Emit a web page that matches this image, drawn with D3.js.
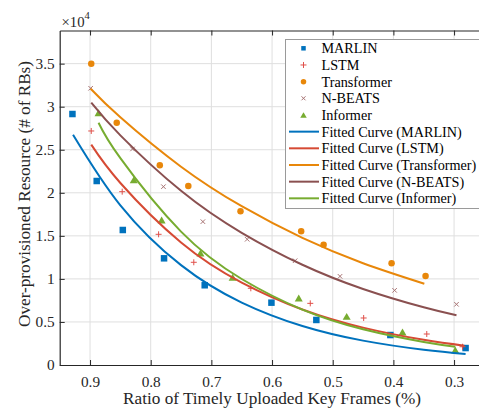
<!DOCTYPE html>
<html>
<head>
<meta charset="utf-8">
<script src="https://cdn.jsdelivr.net/npm/d3@7"></script>
<style>
  body { margin: 0; background: #fff; }
  svg { display: block; font-family: "Liberation Serif", "DejaVu Serif", serif; }
</style>
</head>
<body>
<div id="chart"></div>
<script>
const width = 479,
    height = 411;

// scatter points (x: ratio, y: RBs / 1e4)
const marlinX = [0.929, 0.889, 0.846, 0.778, 0.711, 0.601, 0.527, 0.405, 0.281];
const marlinY = [2.915, 2.137, 1.568, 1.239, 0.926, 0.724, 0.523, 0.348, 0.197];
const lstmX = [0.898, 0.847, 0.787, 0.729, 0.635, 0.537, 0.449, 0.345, 0.286];
const lstmY = [2.718, 2.013, 1.518, 1.193, 0.891, 0.716, 0.546, 0.360, 0.212];
const transformerX = [0.898, 0.856, 0.785, 0.738, 0.652, 0.552, 0.515, 0.403, 0.347];
const transformerY = [3.499, 2.814, 2.319, 2.079, 1.785, 1.553, 1.397, 1.181, 1.034];
const nbeatsX = [0.899, 0.830, 0.779, 0.714, 0.641, 0.562, 0.488, 0.398, 0.296];
const nbeatsY = [3.214, 2.509, 2.071, 1.665, 1.460, 1.211, 1.030, 0.867, 0.705];
const informerX = [0.886, 0.828, 0.782, 0.718, 0.665, 0.556, 0.477, 0.385, 0.298];
const informerY = [2.930, 2.149, 1.684, 1.301, 1.019, 0.778, 0.565, 0.383, 0.174];

// fitted curves
const fitMarlinX = [0.928, 0.85, 0.75, 0.65, 0.55, 0.45, 0.35, 0.281];
const fitMarlinY = [2.675, 1.855, 1.160, 0.725, 0.453, 0.283, 0.177, 0.128];
const fitLstmX = [0.898, 0.85, 0.75, 0.65, 0.55, 0.45, 0.35, 0.283];
const fitLstmY = [2.559, 2.114, 1.423, 0.958, 0.645, 0.434, 0.292, 0.224];
const fitTransformerX = [0.899, 0.85, 0.75, 0.65, 0.55, 0.45, 0.349];
const fitTransformerY = [3.209, 2.877, 2.303, 1.844, 1.476, 1.182, 0.944];
const fitNbeatsX = [0.898, 0.85, 0.75, 0.65, 0.55, 0.45, 0.35, 0.296];
const fitNbeatsY = [3.047, 2.667, 2.023, 1.535, 1.164, 0.883, 0.670, 0.577];
const fitInformerX = [0.886, 0.85, 0.75, 0.65, 0.55, 0.45, 0.35, 0.298];
const fitInformerY = [2.814, 2.402, 1.549, 0.999, 0.644, 0.415, 0.268, 0.213];

const xTicks = [0.9, 0.8, 0.7, 0.6, 0.5, 0.4, 0.3];
const yTicks = [0, 0.5, 1, 1.5, 2, 2.5, 3, 3.5];

const models = ["MARLIN", "LSTM", "Transformer", "N-BEATS", "Informer"];
const colors = ["#0072BD", "#D64A34", "#E8870A", "#8A5050", "#77AC30"];
const markerColors = ["#0072BD", "#E0504A", "#E8870A", "#A77373", "#77AC30"];
const markerTypes = ["square", "plus", "circle", "cross", "triangle"];

const points = [
    [marlinX, marlinY], [lstmX, lstmY], [transformerX, transformerY],
    [nbeatsX, nbeatsY], [informerX, informerY]
];
const fits = [
    [fitMarlinX, fitMarlinY], [fitLstmX, fitLstmY], [fitTransformerX, fitTransformerY],
    [fitNbeatsX, fitNbeatsY], [fitInformerX, fitInformerY]
];

const plotLeft = 59.7, plotRight = 484.4, plotTop = 30.5, plotBottom = 365;

const x = d3.scaleLinear().domain([0.95, 0.25]).range([plotLeft, plotRight]);
const y = d3.scaleLinear().domain([0, 3.885]).range([plotBottom, plotTop]);

const svg = d3.select("#chart").append("svg")
    .attr("width", width)
    .attr("height", height);

// grid
svg.append("g")
    .selectAll("line")
    .data(xTicks)
    .join("line")
    .attr("x1", d => x(d)).attr("x2", d => x(d))
    .attr("y1", plotTop).attr("y2", plotBottom)
    .attr("stroke", "#dfdfdf").attr("stroke-width", 1);
svg.append("g")
    .selectAll("line")
    .data(yTicks.filter(d => d > 0))
    .join("line")
    .attr("x1", plotLeft).attr("x2", plotRight)
    .attr("y1", d => y(d)).attr("y2", d => y(d))
    .attr("stroke", "#dfdfdf").attr("stroke-width", 1);

// axes (ticks inward)
const axisColor = "#262626";
const xAxis = svg.append("g")
    .attr("transform", `translate(0,${plotBottom})`)
    .call(d3.axisBottom(x).tickValues(xTicks).tickSizeInner(-5).tickSizeOuter(0).tickPadding(10).tickFormat(d3.format(".1f")));
const xAxisTop = svg.append("g")
    .attr("transform", `translate(0,${plotTop})`)
    .call(d3.axisTop(x).tickValues(xTicks).tickSizeInner(-5).tickSizeOuter(0).tickFormat(""));
xAxisTop.selectAll(".tick text").remove();
const yAxis = svg.append("g")
    .attr("transform", `translate(${plotLeft},0)`)
    .call(d3.axisLeft(y).tickValues(yTicks).tickSizeInner(-5).tickSizeOuter(0).tickPadding(5).tickFormat(d => d));

[xAxis, xAxisTop, yAxis].forEach(g => {
    g.select(".domain").attr("stroke", axisColor).attr("stroke-width", 1.2);
    g.selectAll(".tick line").attr("stroke", axisColor);
    g.selectAll(".tick text")
        .attr("fill", "#262626")
        .style("font-family", "Liberation Serif")
        .style("font-size", "15.3px");
});
xAxis.selectAll(".tick text").attr("y", 11).attr("dy", "0.71em");

// exponent
const expo = svg.append("text")
    .attr("x", 61.5).attr("y", 26.7)
    .attr("fill", "#262626")
    .style("font-size", "14.7px");
expo.append("tspan").text("\u00d710");
expo.append("tspan").attr("dy", -7.7).style("font-size", "10.5px").text("4");

// labels
svg.append("text")
    .attr("x", (plotLeft + plotRight) / 2).attr("y", 404)
    .attr("text-anchor", "middle")
    .attr("fill", "#262626")
    .style("font-size", "17.2px")
    .text("Ratio of Timely Uploaded Key Frames (%)");
svg.append("text")
    .attr("transform", "translate(29.5,194) rotate(-90)")
    .attr("text-anchor", "middle")
    .attr("fill", "#262626")
    .style("font-size", "17.2px")
    .text("Over-provisioned Resource (# of RBs)");

function drawMarker(g, type, color, cx, cy, s) {
    if (type === "square") {
        g.append("rect").attr("x", cx - s / 2).attr("y", cy - s / 2)
            .attr("width", s).attr("height", s).attr("fill", color);
    } else if (type === "circle") {
        g.append("circle").attr("cx", cx).attr("cy", cy).attr("r", s / 2).attr("fill", color);
    } else if (type === "triangle") {
        const h = s * 0.85;
        g.append("path")
            .attr("d", `M${cx},${cy - h / 2}L${cx + s / 2},${cy + h / 2}L${cx - s / 2},${cy + h / 2}Z`)
            .attr("fill", color);
    } else if (type === "plus") {
        g.append("path")
            .attr("d", `M${cx - s / 2},${cy}H${cx + s / 2}M${cx},${cy - s / 2}V${cy + s / 2}`)
            .attr("stroke", color).attr("stroke-width", 1).attr("fill", "none");
    } else if (type === "cross") {
        const r = s / 2;
        g.append("path")
            .attr("d", `M${cx - r},${cy - r}L${cx + r},${cy + r}M${cx - r},${cy + r}L${cx + r},${cy - r}`)
            .attr("stroke", color).attr("stroke-width", 1).attr("fill", "none");
    }
}

const markerSizes = [6.5, 6, 6.5, 4.5, 8];

// scatter
const scatter = svg.append("g");
points.forEach((p, i) => {
    p[0].forEach((xv, j) => {
        drawMarker(scatter, markerTypes[i], markerColors[i], x(xv), y(p[1][j]), markerSizes[i]);
    });
});

// fitted curves
const line = d3.line()
    .x(d => x(d[0]))
    .y(d => y(d[1]))
    .curve(d3.curveNatural);
fits.forEach((f, i) => {
    svg.append("path")
        .datum(d3.zip(f[0], f[1]))
        .attr("d", line)
        .attr("fill", "none")
        .attr("stroke", colors[i])
        .attr("stroke-width", 2);
});

// legend
const legend = svg.append("g");
legend.append("rect")
    .attr("x", 285.5).attr("y", 39.5)
    .attr("width", 200).attr("height", 169)
    .attr("fill", "#fff")
    .attr("stroke", "#9a9a9a").attr("stroke-width", 1);

const legendLabels = models.concat(models.map(m => `Fitted Curve (${m})`));
const legendSizes = [4.5, 6, 5.5, 4, 6.5];
legendLabels.forEach((label, i) => {
    const ly = 48.3 + i * 16.67;
    if (i < 5) {
        drawMarker(legend, markerTypes[i], markerColors[i], 303.5, ly, legendSizes[i]);
    } else {
        legend.append("line")
            .attr("x1", 289).attr("x2", 319)
            .attr("y1", ly).attr("y2", ly)
            .attr("stroke", colors[i - 5]).attr("stroke-width", 2);
    }
    legend.append("text")
        .attr("x", 321.5).attr("y", ly)
        .attr("dy", "0.35em")
        .attr("fill", "#000")
        .style("font-size", "14.2px")
        .text(label);
});
</script>
</body>
</html>
